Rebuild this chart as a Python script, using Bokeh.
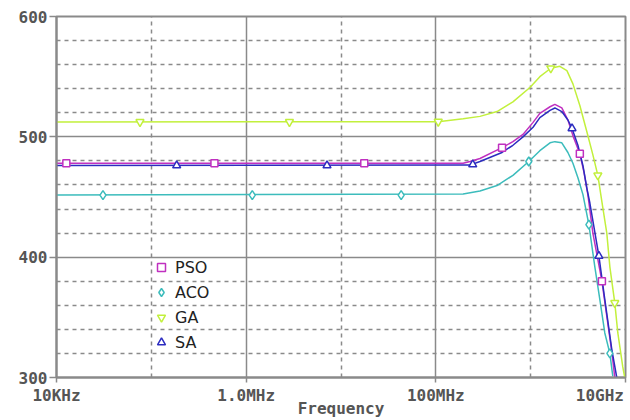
from bokeh.plotting import figure
from bokeh.models import FixedTicker, Legend, LegendItem, CustomJSTickFormatter, LogAxis
from bokeh.embed import file_html
from bokeh.resources import INLINE

# ---- data (frequency in Hz, value) ----
pso_f = [1e4, 1.94e8, 2.29e8, 2.92e8, 4.99e8, 6.50e8, 8.30e8, 1.06e9, 1.25e9, 1.60e9, 1.80e9,
         2.13e9, 2.47e9, 2.79e9, 3.30e9, 3.64e9, 4.01e9, 4.53e9, 5.64e9, 6.35e9, 7.18e9, 7.71e9]
pso_v = [478, 478, 479.5, 482, 491, 496, 502, 512, 519.5, 525, 527,
         524, 514, 501, 486, 471, 452, 420, 380, 351, 321, 300]

aco_f = [1e4, 1.94e8, 2.92e8, 4.42e8, 6.50e8, 9.55e8, 1.25e9, 1.60e9, 1.80e9, 2.13e9,
         2.47e9, 2.79e9, 3.15e9, 3.56e9, 4.11e9, 4.75e9, 5.36e9, 6.05e9, 6.84e9, 7.35e9]
aco_v = [451.6, 452.5, 455, 459.5, 468, 479.5, 488.5, 495, 496, 495,
         487, 478, 466, 452, 427, 392, 365, 337, 320, 301]

ga_f = [1e4, 1.06e8, 1.94e8, 2.92e8, 4.42e8, 6.50e8, 9.82e8, 1.25e9, 1.63e9, 2.03e9, 2.41e9,
        2.79e9, 3.30e9, 3.92e9, 4.53e9, 5.11e9, 5.64e9, 6.35e9, 6.84e9, 7.71e9, 8.30e9, 9.35e9, 9.82e9]
ga_v = [512.4, 512.6, 515, 517, 521, 529, 541, 550, 557, 558.6, 555,
        544, 526, 504, 485, 468, 446, 420, 392, 362, 337, 309, 300]

sa_f = [1e4, 2.29e8, 2.92e8, 4.99e8, 6.50e8, 8.30e8, 1.06e9, 1.25e9, 1.60e9, 1.80e9, 2.13e9,
        2.47e9, 2.73e9, 3.15e9, 3.56e9, 3.92e9, 4.21e9, 5.24e9, 6.05e9, 7.18e9, 8.09e9]
sa_v = [476.2, 476.5, 479.5, 487, 493, 500, 508, 516, 522, 524, 521,
        514, 507, 493, 476, 457, 445, 401, 365, 323, 300]

# marker positions
pso_mf = [1.27e4, 4.63e5, 1.76e7, 4.99e8, 3.30e9, 5.64e9]
pso_mv = [478, 478, 478, 491, 486, 380]
aco_mf = [3.09e4, 1.16e6, 4.31e7, 9.55e8, 4.11e9, 6.84e9]
aco_mv = [451.6, 451.6, 451.6, 479.5, 427, 320]
ga_mf = [7.59e4, 2.86e6, 1.06e8, 1.63e9, 5.11e9, 7.71e9]
ga_mv = [512.4, 512.4, 512.6, 557, 468, 362]
sa_mf = [1.85e5, 7.12e6, 2.45e8, 2.73e9, 5.24e9]
sa_mv = [476.2, 476.2, 477, 507, 401]

series_names = ["PSO", "ACO", "GA", "SA"]
x_ticks = [1e4, 1e6, 1e8, 1e10]
x_minor = [1e5, 1e7, 1e9]
x_tick_labels = ["10KHz", "1.0MHz", "100MHz", "10GHz"]
y_ticks = [300, 400, 500, 600]
y_minor = [320, 340, 360, 380, 420, 440, 460, 480, 520, 540, 560, 580]
x_title = "Frequency"

GRID = "#8a8a8a"
LBL = "#555555"
MONO = "DejaVu Sans Mono"

p = figure(width=630, height=420, x_axis_type="log", x_range=(1e4, 1e10), y_range=(300, 600),
           output_backend="svg", toolbar_location=None,
           min_border_left=56, min_border_right=5, min_border_top=16, min_border_bottom=42)
p.background_fill_color = "white"
p.border_fill_color = "white"
p.outline_line_color = GRID
p.outline_line_width = 2

# grids
p.xgrid.ticker = FixedTicker(ticks=x_ticks, minor_ticks=x_minor)
p.ygrid.ticker = FixedTicker(ticks=y_ticks, minor_ticks=y_minor)
for g in (p.xgrid, p.ygrid):
    g.grid_line_color = GRID
    g.grid_line_width = 1.5
    g.minor_grid_line_color = GRID
    g.minor_grid_line_width = 1.5
    g.minor_grid_line_dash = "4 4"

# axes: the default x axis carries only the tick marks
p.xaxis.ticker = FixedTicker(ticks=x_ticks, minor_ticks=[])
p.xaxis.formatter = CustomJSTickFormatter(code="return ''")
p.xaxis.major_label_standoff = 0
p.xaxis.major_label_text_font_size = "1px"
p.xaxis.major_tick_out = 5
p.yaxis.ticker = FixedTicker(ticks=y_ticks, minor_ticks=[])
p.yaxis.major_tick_out = 7
for ax in (p.xaxis, p.yaxis):
    ax.axis_line_color = GRID
    ax.axis_line_width = 2
    ax.major_tick_line_color = GRID
    ax.major_tick_line_width = 1.5
    ax.major_tick_in = 0
    ax.minor_tick_in = 0
    ax.minor_tick_out = 0
p.yaxis.major_label_text_font = MONO
p.yaxis.major_label_text_font_style = "bold"
p.yaxis.major_label_text_font_size = "16px"
p.yaxis.major_label_text_color = LBL
p.yaxis.major_label_standoff = 2

# second x axis carries the labels; the last label sits flush with the right edge
label_pos = x_ticks[:-1] + [x_ticks[-1] / 10 ** 0.27]
lab_axis = LogAxis(ticker=FixedTicker(ticks=label_pos, minor_ticks=[]),
                   formatter=CustomJSTickFormatter(args=dict(labels=x_tick_labels),
                                                   code="return labels[index]"),
                   axis_label=x_title, axis_line_color=None, major_tick_out=0, major_tick_in=0,
                   minor_tick_out=0, minor_tick_in=0, major_label_standoff=3, axis_label_standoff=-9,
                   major_label_text_font=MONO, major_label_text_font_style="bold",
                   major_label_text_font_size="16px", major_label_text_color=LBL,
                   axis_label_text_font=MONO, axis_label_text_font_style="bold",
                   axis_label_text_font_size="16px", axis_label_text_color=LBL)
p.add_layout(lab_axis, "below")

colors = {"PSO": "#c030c0", "ACO": "#3cbcbc", "GA": "#c2f03c", "SA": "#2c2cc0"}
data = {
    "PSO": (pso_f, pso_v, pso_mf, pso_mv, "square", 7),
    "ACO": (aco_f, aco_v, aco_mf, aco_mv, "diamond", 9),
    "GA": (ga_f, ga_v, ga_mf, ga_mv, "inverted_triangle", 8),
    "SA": (sa_f, sa_v, sa_mf, sa_mv, "triangle", 8),
}
items = []
for name in ["GA", "ACO", "PSO", "SA"]:
    f, v, mf, mv, mk, sz = data[name]
    p.line(f, v, line_color=colors[name], line_width=1.5)
for name in series_names:
    f, v, mf, mv, mk, sz = data[name]
    r = p.scatter(mf, mv, marker=mk, size=sz, line_color=colors[name], line_width=1.5,
                  fill_color="white")
    items.append(LegendItem(label=name, renderers=[r]))

legend = Legend(items=items, location=(95, 25), padding=0, spacing=5, glyph_width=20,
                glyph_height=20, label_height=20, label_standoff=4,
                label_text_font="DejaVu Sans", label_text_font_size="16px",
                label_text_color="#222222", background_fill_alpha=0, border_line_alpha=0)
p.add_layout(legend, "center")

open("out.html", "w").write(file_html(p, INLINE))
